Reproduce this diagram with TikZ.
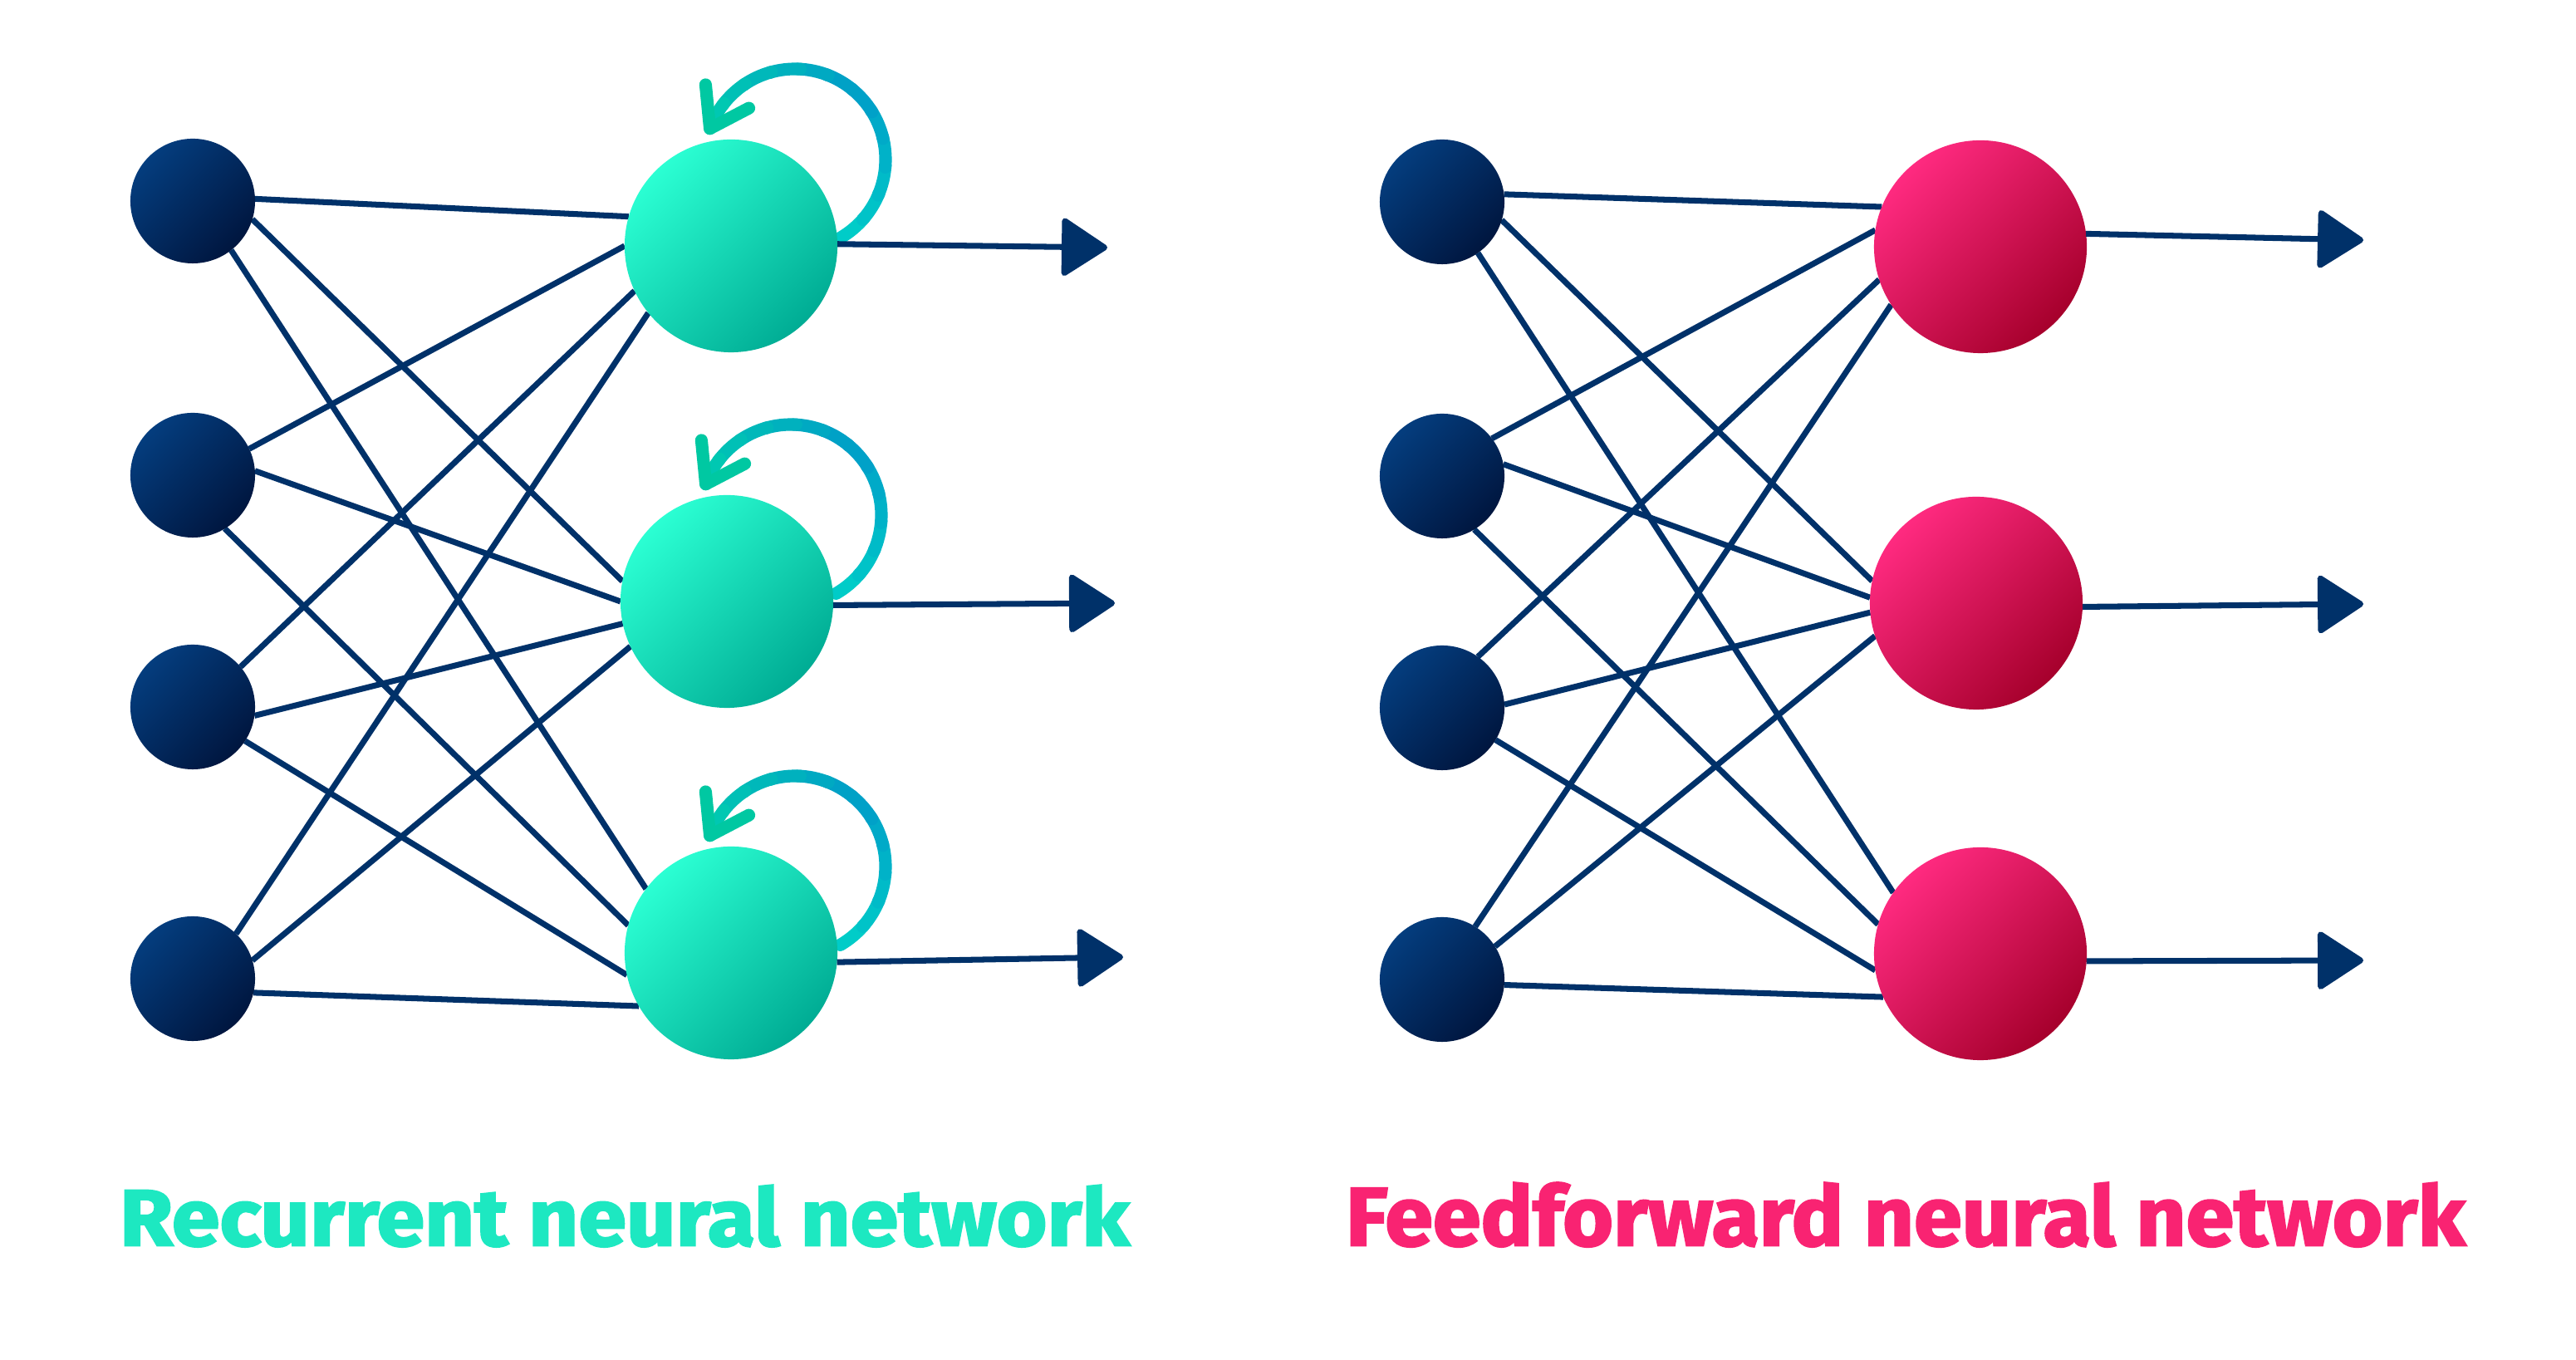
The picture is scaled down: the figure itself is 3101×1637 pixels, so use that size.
\documentclass[tikz,border=0pt]{standalone}
\usepackage{fontspec}
\usepackage{graphicx}
\setmainfont{Fira Sans}[BoldFeatures={FakeBold=2.2}]
\usetikzlibrary{arrows.meta,calc}
\definecolor{linec}{HTML}{003169}
\definecolor{inA}{HTML}{043D7E}
\definecolor{inB}{HTML}{00163F}
\definecolor{gA}{HTML}{2BFFD3}
\definecolor{gB}{HTML}{00AC94}
\definecolor{rA}{HTML}{FF2A80}
\definecolor{rB}{HTML}{A6002C}
\definecolor{txtG}{HTML}{1DE8C1}
\definecolor{txtR}{HTML}{F92372}
\definecolor{loopS}{HTML}{00CCC8}
\definecolor{loopM}{HTML}{009DC8}
\definecolor{loopE}{HTML}{00C8B2}
\definecolor{loopArr}{HTML}{00C8A2}
\pgfdeclarelayer{bg}
\pgfsetlayers{bg,main}
\newcommand{\selfloop}[1]{%
  \coordinate (#1lc) at ($(#1)+(77,104)$);
  \foreach \i in {0,...,11}{%
    \pgfmathsetmacro\aa{-60+\i*220/12}%
    \pgfmathsetmacro\bb{min(\aa+220/12+1.5,160)}%
    \pgfmathsetmacro\tt{\i/11}%
    \ifdim\tt pt<0.5pt
      \pgfmathsetmacro\pp{100*(1-2*\tt)}%
      \draw[loopline,draw=loopS!\pp!loopM] ($(#1lc)+(\aa:109)$) arc[start angle=\aa,end angle=\bb,radius=109];
    \else
      \pgfmathsetmacro\pp{100*(2-2*\tt)}%
      \draw[loopline,draw=loopM!\pp!loopE] ($(#1lc)+(\aa:109)$) arc[start angle=\aa,end angle=\bb,radius=109];
    \fi
  }%
  \coordinate (#1tip) at ($(#1lc)+(160:109)$);
  \draw[loopline,draw=loopArr,line join=round] ($(#1tip)+(95.6:53)$) -- (#1tip) -- ($(#1tip)+(27.6:53)$);
}
\begin{document}
\begin{tikzpicture}[x=0.01cm,y=0.01cm,
  inp/.style={circle,minimum size=1.5cm,inner sep=0,outer sep=0,top color=inA,bottom color=inB,shading angle=45},
  hidG/.style={circle,minimum size=2.56cm,inner sep=0,outer sep=0,top color=gA,bottom color=gB,shading angle=45},
  hidR/.style={circle,minimum size=2.56cm,inner sep=0,outer sep=0,top color=rA,bottom color=rB,shading angle=45},
  conn/.style={draw=linec,line width=2pt},
  outarr/.style={draw=linec,line width=2pt,-{Triangle[length=16.5pt,width=21pt,round]}},
  loopline/.style={line width=4.3pt,line cap=round},
  title/.style={anchor=south west,inner sep=0,outer sep=0}
]
\begin{pgfonlayer}{bg}
\fill[white] (0,0) rectangle (3101,1637);
\end{pgfonlayer}
\useasboundingbox (0,0) rectangle (3101,1637);

% left network nodes
\node[inp] (aL1) at (232,1395) {};
\node[inp] (aL2) at (232,1065) {};
\node[inp] (aL3) at (232,786) {};
\node[inp] (aL4) at (232,459) {};
\node[hidG] (g1) at (880,1341) {};
\node[hidG] (g2) at (875,913) {};
\node[hidG] (g3) at (880,490) {};
\coordinate (tL1) at (1333,1339);
\coordinate (tL2) at (1342,911);
\coordinate (tL3) at (1352,485);

% right network nodes
\node[inp] (aR1) at (1736,1394) {};
\node[inp] (aR2) at (1736,1064) {};
\node[inp] (aR3) at (1736,785) {};
\node[inp] (aR4) at (1736,458) {};
\node[hidR] (r1) at (2384,1340) {};
\node[hidR] (r2) at (2379,911) {};
\node[hidR] (r3) at (2384,489) {};
\coordinate (tR1) at (2845,1348);
\coordinate (tR2) at (2845,910);
\coordinate (tR3) at (2845,481);

\begin{pgfonlayer}{bg}
% left connections
\draw[conn] (aL1.2) -- (g1.164);
\draw[conn] (aL1.343) -- (g2.169);
\draw[conn] (aL1.308) -- (g3.143);
\draw[conn] (aL2.25) -- (g1.180);
\draw[conn] (aL2.4) -- (g2.180);
\draw[conn] (aL2.301) -- (g3.165);
\draw[conn] (aL3.40) -- (g1.205);
\draw[conn] (aL3.352) -- (g2.192);
\draw[conn] (aL3.327) -- (g3.192);
\draw[conn] (aL4.46) -- (g1.219);
\draw[conn] (aL4.17) -- (g2.205);
\draw[conn] (aL4.347) -- (g3.210);
% right connections
\draw[conn] (aR1.7) -- (r1.158);
\draw[conn] (aR1.343) -- (r2.168);
\draw[conn] (aR1.305) -- (r3.145);
\draw[conn] (aR2.37) -- (r1.171);
\draw[conn] (aR2.11) -- (r2.177);
\draw[conn] (aR2.301) -- (r3.164);
\draw[conn] (aR3.55) -- (r1.198);
\draw[conn] (aR3.3) -- (r2.185);
\draw[conn] (aR3.329) -- (r3.189);
\draw[conn] (aR4.58) -- (r1.213);
\draw[conn] (aR4.32) -- (r2.198);
\draw[conn] (aR4.355) -- (r3.204);
% self loops
\selfloop{g1}
\selfloop{g2}
\selfloop{g3}
\end{pgfonlayer}

% outputs
\draw[outarr] (g1.1) -- (tL1);
\draw[outarr] (g2.358) -- (tL2);
\draw[outarr] (g3.355) -- (tL3);
\draw[outarr] (r1.7) -- (tR1);
\draw[outarr] (r2.358) -- (tR2);
\draw[outarr] (r3.356) -- (tR3);

% titles
\node[title,text=txtG] (titleL) at (144,136) {\resizebox{12.15cm}{0.73cm}{\bfseries Recurrent neural network}};
\node[title,text=txtR] (titleR) at (1620,136) {\resizebox{13.47cm}{0.76cm}{\bfseries Feedforward neural network}};
\end{tikzpicture}
\end{document}
